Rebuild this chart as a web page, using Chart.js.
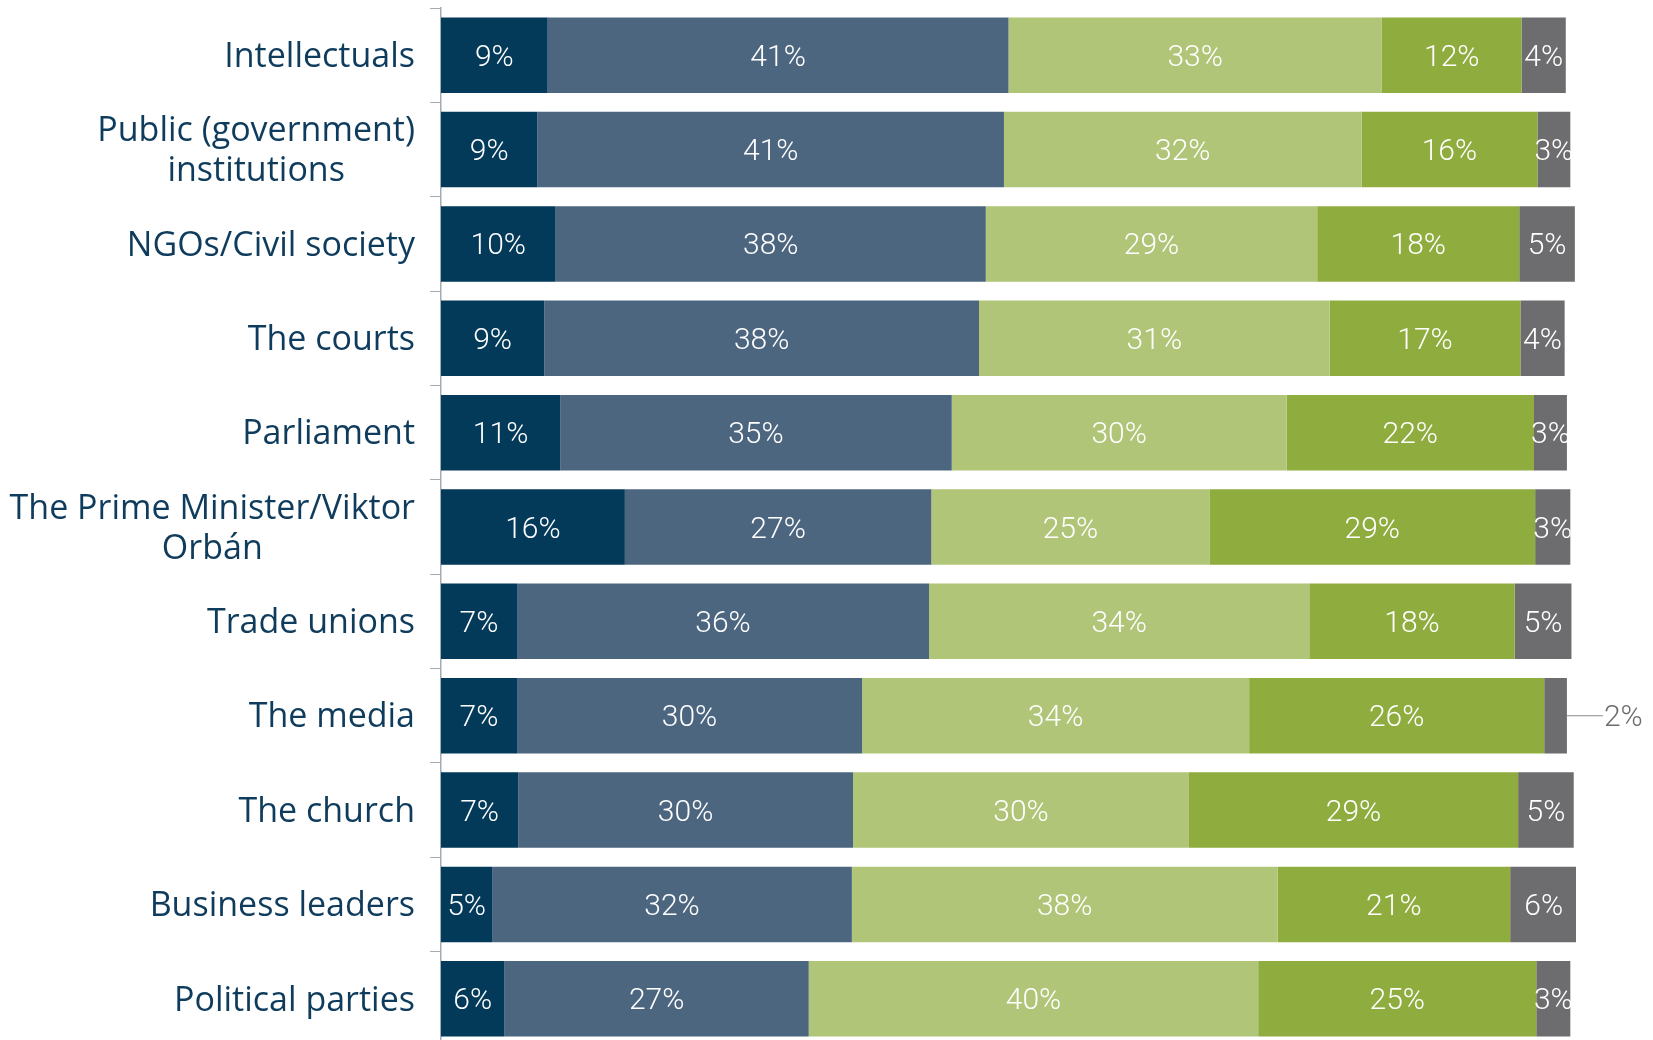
<!DOCTYPE html>
<html>
<head>
<meta charset="utf-8">
<script src="https://cdn.jsdelivr.net/npm/chart.js@4/dist/chart.umd.min.js"></script>
<style>
  html, body { margin: 0; padding: 0; background: #fff; overflow: hidden; }
  #wrap { width: 1653px; height: 1046px; }
</style>
</head>
<body>
<div id="wrap"><canvas id="myChart"></canvas></div>
<script>
const categories = [
    ['Intellectuals'],
    ['Public (government)', 'institutions'],
    ['NGOs/Civil society'],
    ['The courts'],
    ['Parliament'],
    ['The Prime Minister/Viktor', 'Orbán'],
    ['Trade unions'],
    ['The media'],
    ['The church'],
    ['Business leaders'],
    ['Political parties']
];
const seriesNames = ['Series 1', 'Series 2', 'Series 3', 'Series 4', 'Series 5'];
const series1 = [9.4, 8.5, 10.1, 9.1, 10.5, 16.2, 6.7, 6.7, 6.8, 4.5, 5.6];
const series2 = [40.6, 41.1, 37.9, 38.3, 34.5, 27.0, 36.3, 30.4, 29.5, 31.7, 26.8];
const series3 = [32.9, 31.5, 29.2, 30.9, 29.5, 24.5, 33.5, 34.1, 29.6, 37.5, 39.6];
const series4 = [12.3, 15.5, 17.8, 16.8, 21.8, 28.7, 18.1, 26.0, 29.0, 20.5, 24.5];
const series5 = [3.9, 2.9, 4.9, 3.9, 2.9, 3.1, 5.0, 2.0, 4.9, 5.9, 3.0];
const colors = ['#033a5a', '#4d6680', '#b0c578', '#8fac3e', '#6d6d6f'];

const allSeries = [series1, series2, series3, series4, series5];

const labelFont = '300 30px "Liberation Sans Narrow", Roboto, sans-serif';

// labels inside each segment, small ones get pulled outside with a leader line
const segLabels = {
    id: 'segLabels',
    afterDatasetsDraw(chart) {
        const ctx = chart.ctx;
        ctx.save();
        ctx.font = labelFont;
        ctx.textBaseline = 'middle';
        chart.data.datasets.forEach((ds, di) => {
            const meta = chart.getDatasetMeta(di);
            meta.data.forEach((bar, i) => {
                const txt = Math.round(ds.data[i]) + '%';
                const w = Math.abs(bar.x - bar.base);
                if (w < 28) {
                    ctx.strokeStyle = '#8a8a8a';
                    ctx.lineWidth = 1.2;
                    ctx.beginPath();
                    ctx.moveTo(bar.x, bar.y);
                    ctx.lineTo(bar.x + 36, bar.y);
                    ctx.stroke();
                    ctx.fillStyle = '#6d6d6f';
                    ctx.textAlign = 'left';
                    ctx.fillText(txt, bar.x + 37, bar.y + 3);
                } else {
                    ctx.fillStyle = '#ffffff';
                    ctx.textAlign = 'center';
                    ctx.fillText(txt, (bar.x + bar.base) / 2, bar.y + 3);
                }
            });
        });
        ctx.restore();
    }
};

// category names: block right-aligned to the axis, lines centred inside the block
const catLabels = {
    id: 'catLabels',
    afterDraw(chart) {
        const ctx = chart.ctx;
        const yScale = chart.scales.y;
        const right = chart.chartArea.left - 26;
        ctx.save();
        ctx.font = '34px "Open Sans"';
        ctx.fillStyle = '#0f3c5c';
        ctx.textBaseline = 'middle';
        ctx.textAlign = 'center';
        categories.forEach((lines, i) => {
            const cy = yScale.getPixelForTick(i) + 2;
            const maxW = Math.max(...lines.map(l => ctx.measureText(l).width));
            const cx = right - maxW / 2;
            const lh = 40;
            lines.forEach((l, k) => {
                ctx.fillText(l, cx, cy - (lines.length - 1) * lh / 2 + k * lh);
            });
        });
        ctx.restore();
    }
};

const ctx = document.getElementById('myChart').getContext('2d');
new Chart(ctx, {
    type: 'bar',
    data: {
        labels: categories.map(c => c.join(' ')),
        datasets: allSeries.map((s, k) => ({
            label: seriesNames[k],
            data: s,
            backgroundColor: colors[k],
            borderWidth: 0,
            barPercentage: 0.8,
            categoryPercentage: 1.0
        }))
    },
    options: {
        indexAxis: 'y',
        responsive: true,
        maintainAspectRatio: false,
        animation: false,
        layout: {
            padding: { left: 429, top: 8, right: 77, bottom: 0 }
        },
        plugins: {
            legend: { display: false },
            tooltip: { enabled: false }
        },
        scales: {
            x: {
                stacked: true,
                min: 0,
                max: 100,
                display: false
            },
            y: {
                stacked: true,
                ticks: { display: false },
                grid: {
                    offset: true,
                    drawOnChartArea: false,
                    drawTicks: true,
                    tickLength: 11,
                    color: '#a3abb3'
                },
                border: { display: true, color: '#a3abb3', width: 1.5 },
                afterFit: function (scale) { scale.width = 12; }
            }
        }
    },
    plugins: [segLabels, catLabels]
});
</script>
</body>
</html>
